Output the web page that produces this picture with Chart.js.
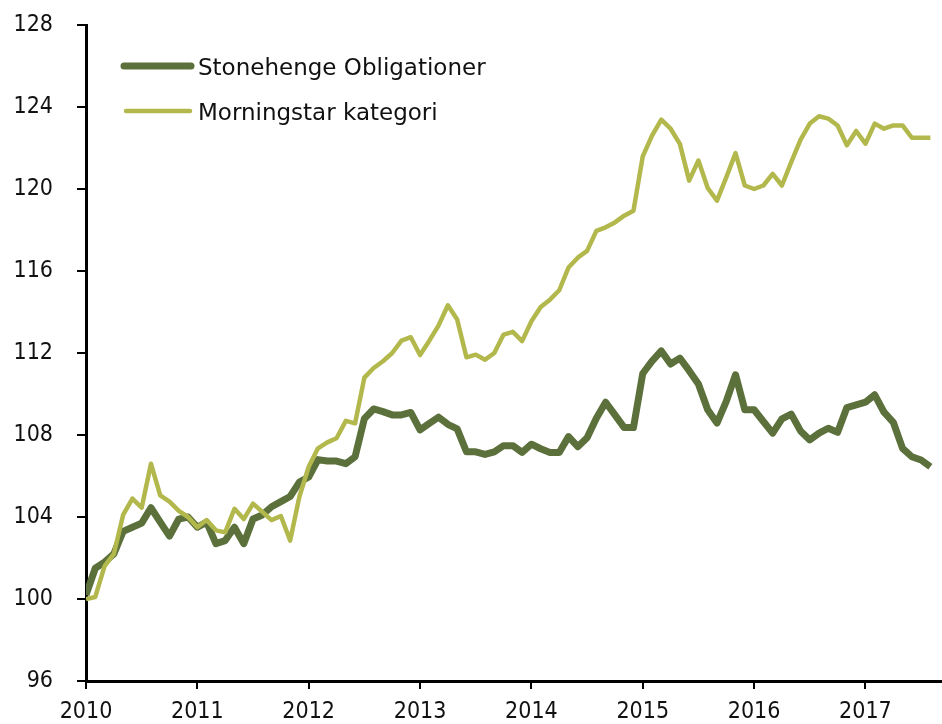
<!DOCTYPE html>
<html>
<head>
<meta charset="utf-8">
<script src="https://cdn.jsdelivr.net/npm/chart.js@4/dist/chart.umd.min.js"></script>
<style>
  html, body { margin: 0; padding: 0; background: #fff; }
  #wrap { width: 942px; height: 724px; position: relative; }
</style>
</head>
<body>
<div id="wrap"><canvas id="chart"></canvas></div>
<script>
// tick labels on the x axis (one per January)
const years = ['2010', '2011', '2012', '2013', '2014', '2015', '2016', '2017'];

// monthly categories, Jan 2010 .. Aug 2017
const months = [];
years.forEach(y => {
    for (let m = 1; m <= 12; m++) months.push(y + '-' + String(m).padStart(2, '0'));
});
months.length = 92;

const seriesNames = ['Stonehenge Obligationer', 'Morningstar kategori'];

const stonehenge = [
    100.2, 101.5, 101.8, 102.2, 103.3, 103.5, 103.7, 104.45, 103.75, 103.07, 103.9, 104.0,
    103.5, 103.75, 102.7, 102.85, 103.5, 102.7, 103.9, 104.1, 104.5, 104.75, 105.0, 105.7,
    105.95, 106.8, 106.73, 106.73, 106.6, 106.94, 108.8, 109.27, 109.14, 108.98, 108.98, 109.1,
    108.25, 108.57, 108.87, 108.52, 108.3, 107.18, 107.18, 107.05, 107.18, 107.48, 107.48, 107.15,
    107.55, 107.33, 107.15, 107.15, 107.92, 107.43, 107.87, 108.82, 109.6, 108.98, 108.36, 108.36,
    111.0, 111.6, 112.1, 111.46, 111.75, 111.14, 110.49, 109.23, 108.58, 109.64, 110.94, 109.23,
    109.23, 108.66, 108.09, 108.79, 109.02, 108.2, 107.76, 108.09, 108.33, 108.13, 109.34, 109.47,
    109.6, 109.96, 109.11, 108.62, 107.35, 106.94, 106.78, 106.45
];

const morningstar = [
    100.0, 100.1, 101.6, 102.2, 104.1, 104.9, 104.45, 106.6, 105.05, 104.75, 104.3, 104.0,
    103.5, 103.85, 103.35, 103.25, 104.4, 103.9, 104.65, 104.25, 103.85, 104.05, 102.85, 105.0,
    106.45, 107.35, 107.64, 107.84, 108.69, 108.57, 110.8, 111.27, 111.6, 112.0, 112.6, 112.77,
    111.9, 112.6, 113.35, 114.33, 113.63, 111.79, 111.92, 111.67, 112.0, 112.9, 113.03, 112.58,
    113.55, 114.24, 114.6, 115.06, 116.17, 116.65, 116.98, 117.96, 118.13, 118.37, 118.7, 118.94,
    121.59, 122.6, 123.38, 122.94, 122.2, 120.41, 121.39, 120.05, 119.43, 120.57, 121.75, 120.17,
    120.0, 120.17, 120.74, 120.17, 121.31, 122.4, 123.19, 123.55, 123.43, 123.1, 122.13, 122.83,
    122.21, 123.19, 122.94, 123.1, 123.1, 122.5, 122.5, 122.5
];

const yTicks = [96, 100, 104, 108, 112, 116, 120, 124, 128];

const FONT = "'DejaVu Sans Condensed', 'DejaVu Sans', sans-serif";
const LEGEND_FONT = "'DejaVu Sans', sans-serif";
const darkGreen = '#5b703b';
const lightGreen = '#b2b84c';

function toPoints(values) {
    return values.map((v, i) => ({ x: i, y: v, month: months[i] }));
}

// legend drawn inside the plot, top left
const insideLegend = {
    id: 'insideLegend',
    afterDraw(chart) {
        const ctx = chart.ctx;
        const rows = [
            { ds: chart.data.datasets[1], x1: 124, x2: 191, y: 66, text: 74.5 },
            { ds: chart.data.datasets[0], x1: 126, x2: 190, y: 111, text: 119.7 }
        ];
        ctx.save();
        rows.forEach(r => {
            ctx.beginPath();
            ctx.lineCap = 'round';
            ctx.strokeStyle = r.ds.borderColor;
            ctx.lineWidth = r.ds.borderWidth;
            ctx.moveTo(r.x1, r.y);
            ctx.lineTo(r.x2, r.y);
            ctx.stroke();
            ctx.fillStyle = '#111';
            ctx.font = '23px ' + LEGEND_FONT;
            ctx.textBaseline = 'alphabetic';
            ctx.textAlign = 'left';
            ctx.fillText(r.ds.label, 198, r.text);
        });
        ctx.restore();
    }
};

new Chart(document.getElementById('chart').getContext('2d'), {
    type: 'line',
    data: {
        datasets: [
            {
                label: seriesNames[1],
                data: toPoints(morningstar),
                borderColor: lightGreen,
                borderWidth: 4.5,
                pointRadius: 0,
                tension: 0,
                borderJoinStyle: 'round'
            },
            {
                label: seriesNames[0],
                data: toPoints(stonehenge),
                borderColor: darkGreen,
                borderWidth: 7,
                pointRadius: 0,
                tension: 0,
                borderJoinStyle: 'round'
            }
        ]
    },
    options: {
        responsive: true,
        maintainAspectRatio: false,
        animation: false,
        layout: { padding: { top: 25, right: 0, left: 0, bottom: 0 } },
        plugins: {
            legend: { display: false },
            tooltip: { enabled: false }
        },
        scales: {
            x: {
                type: 'linear',
                min: 0,
                max: 92.25,
                afterFit: s => { s.height = 43; s.paddingLeft = 0; s.paddingRight = 0; },
                border: { display: true, color: '#000', width: 3 },
                grid: { drawOnChartArea: false, drawTicks: true, tickLength: 8, color: '#000', lineWidth: 2 },
                ticks: {
                    stepSize: 12,
                    includeBounds: false,
                    autoSkip: false,
                    maxRotation: 0,
                    padding: 9,
                    color: '#111',
                    font: { family: FONT, size: 23 },
                    callback: v => (v % 12 === 0 ? years[v / 12] : '')
                }
            },
            y: {
                min: 96,
                max: 128,
                afterFit: s => { s.width = 86; s.paddingTop = 0; s.paddingBottom = 0; },
                afterBuildTicks: s => { s.ticks = yTicks.map(v => ({ value: v })); },
                border: { display: true, color: '#000', width: 3 },
                grid: { drawOnChartArea: false, drawTicks: true, tickLength: 9, color: '#000', lineWidth: 2 },
                ticks: {
                    padding: 24,
                    color: '#111',
                    font: { family: FONT, size: 23 }
                }
            }
        }
    },
    plugins: [insideLegend]
});
</script>
</body>
</html>
